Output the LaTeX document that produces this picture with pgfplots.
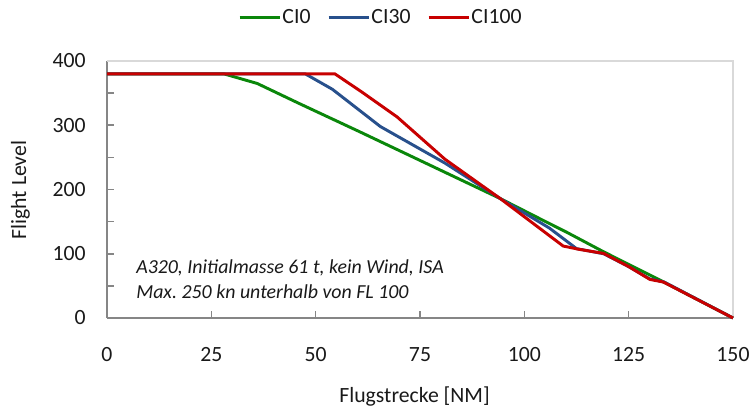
\documentclass[border=0pt]{standalone}
\usepackage{pgfplots}
\pgfplotsset{compat=1.18}
\usepackage{fontspec}
\setmainfont{Carlito}
\frenchspacing
\definecolor{cgreen}{RGB}{10,135,10}
\definecolor{cblue}{RGB}{40,80,140}
\definecolor{cred}{RGB}{200,0,0}
\definecolor{axgray}{RGB}{134,134,134}
\definecolor{frgray}{RGB}{217,217,217}
\definecolor{txt}{RGB}{25,25,25}
\begin{document}
\begin{tikzpicture}
\path[use as bounding box] (0,0) rectangle (563.25pt,309.75pt);
\begin{axis}[
  at={(80.25pt,71.25pt)}, anchor=south west,
  scale only axis, width=469.5pt, height=192.75pt,
  xmin=0, xmax=150, ymin=0, ymax=400,
  xtick={0,25,...,150}, ytick={0,100,...,400},
  minor ytick={50,150,250,350},
  axis x line*=bottom, axis y line*=left,
  axis line style={axgray, line width=1.5pt},
  tick style={axgray, line width=1.2pt},
  major tick length=5.5pt, minor tick length=5.5pt,
  tick align=inside,
  /pgf/number format/assume math mode=true,
  ticklabel style={font=\fontsize{16.3}{19}\selectfont, text=txt, inner sep=0pt},
  xticklabel style={anchor=center, yshift=-27.75pt},
  yticklabel style={anchor=east, xshift=-15.75pt},
  clip=false,
  legend style={at={(0.437,1.171)}, anchor=center, draw=none, fill=none,
    font=\fontsize{16.3}{19}\selectfont, text=txt,
    legend columns=3,
    /tikz/every even column/.append style={column sep=11.5pt},
    nodes={inner sep=1pt}},
  legend cell align=left,
  legend image code/.code={\draw[#1] (0pt,0pt) -- (30pt,0pt);},
  every axis plot/.append style={line width=2.2pt, line join=round},
]
\draw[frgray, line width=0.8pt] (rel axis cs:0,1) -- (rel axis cs:1,1) -- (rel axis cs:1,0);
\addplot[cgreen] coordinates {(0,380) (28,380) (36,365) (46,334) (60.5,290) (94.2,186) (106,147) (110,134) (119,103) (132.5,59) (150,0)};
\addlegendentry{CI0}
\addplot[cblue] coordinates {(0,380) (47.5,380) (54,356) (65.5,298) (81,241) (94.2,186) (106,140) (112.5,108) (119,100) (125,80) (130,61) (133.5,56) (150,0)};
\addlegendentry{CI30}
\addplot[cred] coordinates {(0,380) (54.6,380) (61,352) (69.5,313) (81,247) (94.2,186) (109.3,112) (113,107) (119,100.5) (125,80) (130.1,60) (133.3,56) (150,0)};
\addlegendentry{CI100}
\end{axis}
\node[rotate=90, text=txt, font=\fontsize{16.3}{19}\selectfont] at (15.4pt,167.25pt) {Flight Level};
\node[text=txt, font=\fontsize{16.3}{19}\selectfont] at (310.9pt,12pt) {Flugstrecke [NM]};
\node[anchor=west, align=left, inner sep=0pt, text=txt, font=\fontsize{14.9}{18.75}\selectfont\itshape] at (102pt,100.1pt) {A320, Initialmasse 61 t, kein Wind, ISA\\Max.\ 250 kn unterhalb von FL 100};
\end{tikzpicture}
\end{document}
